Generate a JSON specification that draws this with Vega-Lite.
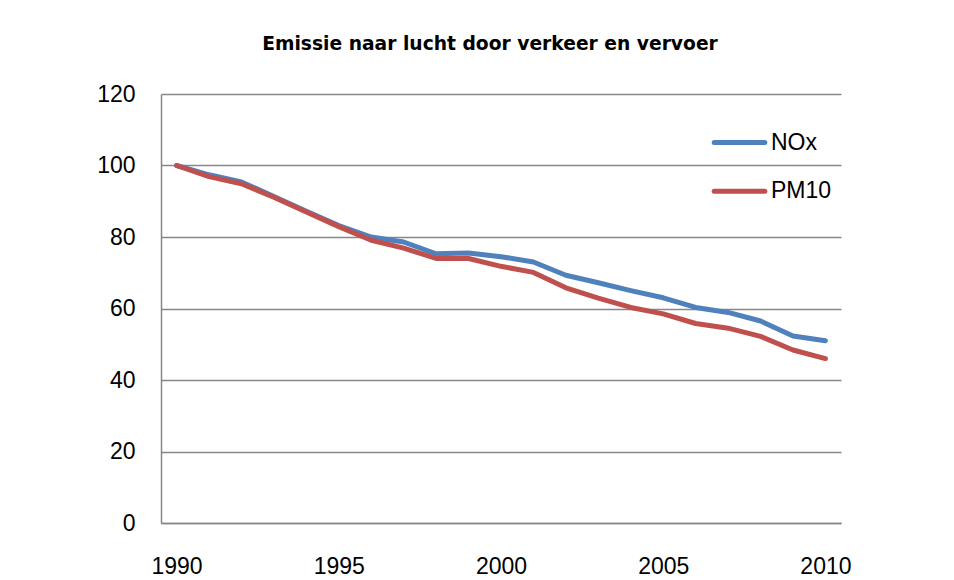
{
  "$schema": "https://vega.github.io/schema/vega-lite/v6.json",
  "autosize": {"type": "none"},
  "padding": {"left": 161, "top": 94, "right": 113, "bottom": 57},
  "width": 680,
  "height": 429,
  "background": "white",
  "config": {
    "view": {"stroke": null},
    "font": "Liberation Sans"
  },
  "title": {
    "text": "Emissie naar lucht door verkeer en vervoer",
    "font": "DejaVu Sans",
    "fontSize": 18.7,
    "fontWeight": "bold",
    "color": "black",
    "anchor": "middle",
    "frame": "group",
    "dx": -11,
    "baseline": "alphabetic",
    "offset": 14
  },
  "data": {
    "values": [
      {"year": 1990, "series": "NOx", "value": 100},
      {"year": 1991, "series": "NOx", "value": 97.4},
      {"year": 1992, "series": "NOx", "value": 95.4},
      {"year": 1993, "series": "NOx", "value": 91.3},
      {"year": 1994, "series": "NOx", "value": 87.2},
      {"year": 1995, "series": "NOx", "value": 83.2},
      {"year": 1996, "series": "NOx", "value": 80.0},
      {"year": 1997, "series": "NOx", "value": 78.6},
      {"year": 1998, "series": "NOx", "value": 75.3},
      {"year": 1999, "series": "NOx", "value": 75.5},
      {"year": 2000, "series": "NOx", "value": 74.5},
      {"year": 2001, "series": "NOx", "value": 73.0},
      {"year": 2002, "series": "NOx", "value": 69.3},
      {"year": 2003, "series": "NOx", "value": 67.2},
      {"year": 2004, "series": "NOx", "value": 65.0},
      {"year": 2005, "series": "NOx", "value": 63.0},
      {"year": 2006, "series": "NOx", "value": 60.3},
      {"year": 2007, "series": "NOx", "value": 58.9},
      {"year": 2008, "series": "NOx", "value": 56.5},
      {"year": 2009, "series": "NOx", "value": 52.3},
      {"year": 2010, "series": "NOx", "value": 51.0},
      {"year": 1990, "series": "PM10", "value": 100},
      {"year": 1991, "series": "PM10", "value": 96.9},
      {"year": 1992, "series": "PM10", "value": 94.9},
      {"year": 1993, "series": "PM10", "value": 91.1},
      {"year": 1994, "series": "PM10", "value": 87.0},
      {"year": 1995, "series": "PM10", "value": 82.9},
      {"year": 1996, "series": "PM10", "value": 79.1},
      {"year": 1997, "series": "PM10", "value": 76.9},
      {"year": 1998, "series": "PM10", "value": 74.0},
      {"year": 1999, "series": "PM10", "value": 74.0},
      {"year": 2000, "series": "PM10", "value": 71.8},
      {"year": 2001, "series": "PM10", "value": 70.1},
      {"year": 2002, "series": "PM10", "value": 65.8},
      {"year": 2003, "series": "PM10", "value": 62.9},
      {"year": 2004, "series": "PM10", "value": 60.3},
      {"year": 2005, "series": "PM10", "value": 58.5},
      {"year": 2006, "series": "PM10", "value": 55.8},
      {"year": 2007, "series": "PM10", "value": 54.5},
      {"year": 2008, "series": "PM10", "value": 52.2},
      {"year": 2009, "series": "PM10", "value": 48.4},
      {"year": 2010, "series": "PM10", "value": 46.0}
    ]
  },
  "mark": {"type": "line", "strokeWidth": 5, "strokeCap": "round", "strokeJoin": "round"},
  "encoding": {
    "x": {
      "field": "year",
      "type": "quantitative",
      "scale": {"domain": [1989.52, 2010.48], "nice": false, "zero": false},
      "axis": {
        "title": null,
        "values": [1990, 1995, 2000, 2005, 2010],
        "format": "d",
        "grid": false,
        "ticks": false,
        "domain": true,
        "domainColor": "#878787",
        "domainWidth": 1.5,
        "labelFont": "Liberation Sans",
        "labelFontSize": 23,
        "labelColor": "black",
        "labelPadding": 32,
        "labelFlush": false,
        "labelOverlap": false
      }
    },
    "y": {
      "field": "value",
      "type": "quantitative",
      "scale": {"domain": [0, 120], "nice": false},
      "axis": {
        "title": null,
        "values": [0, 20, 40, 60, 80, 100, 120],
        "grid": true,
        "gridColor": "#878787",
        "gridWidth": 1.5,
        "ticks": false,
        "domain": true,
        "domainColor": "#878787",
        "domainWidth": 1.5,
        "labelFont": "Liberation Sans",
        "labelFontSize": 23,
        "labelColor": "black",
        "labelPadding": 26,
        "labelFlush": false,
        "labelOverlap": false
      }
    },
    "color": {
      "field": "series",
      "type": "nominal",
      "scale": {"domain": ["NOx", "PM10"], "range": ["#4F81BD", "#C0504D"]},
      "legend": {
        "title": null,
        "orient": "none",
        "legendX": 563,
        "legendY": 33,
        "padding": 0,
        "symbolType": "M-2,0H2",
        "symbolSize": 640,
        "symbolStrokeWidth": 5,
        "labelFont": "Liberation Sans",
        "labelFontSize": 23,
        "labelColor": "black",
        "labelOffset": 16,
        "rowPadding": 20.7,
        "encode": {"symbols": {"update": {"strokeCap": {"value": "round"}}}}
      }
    }
  }
}
